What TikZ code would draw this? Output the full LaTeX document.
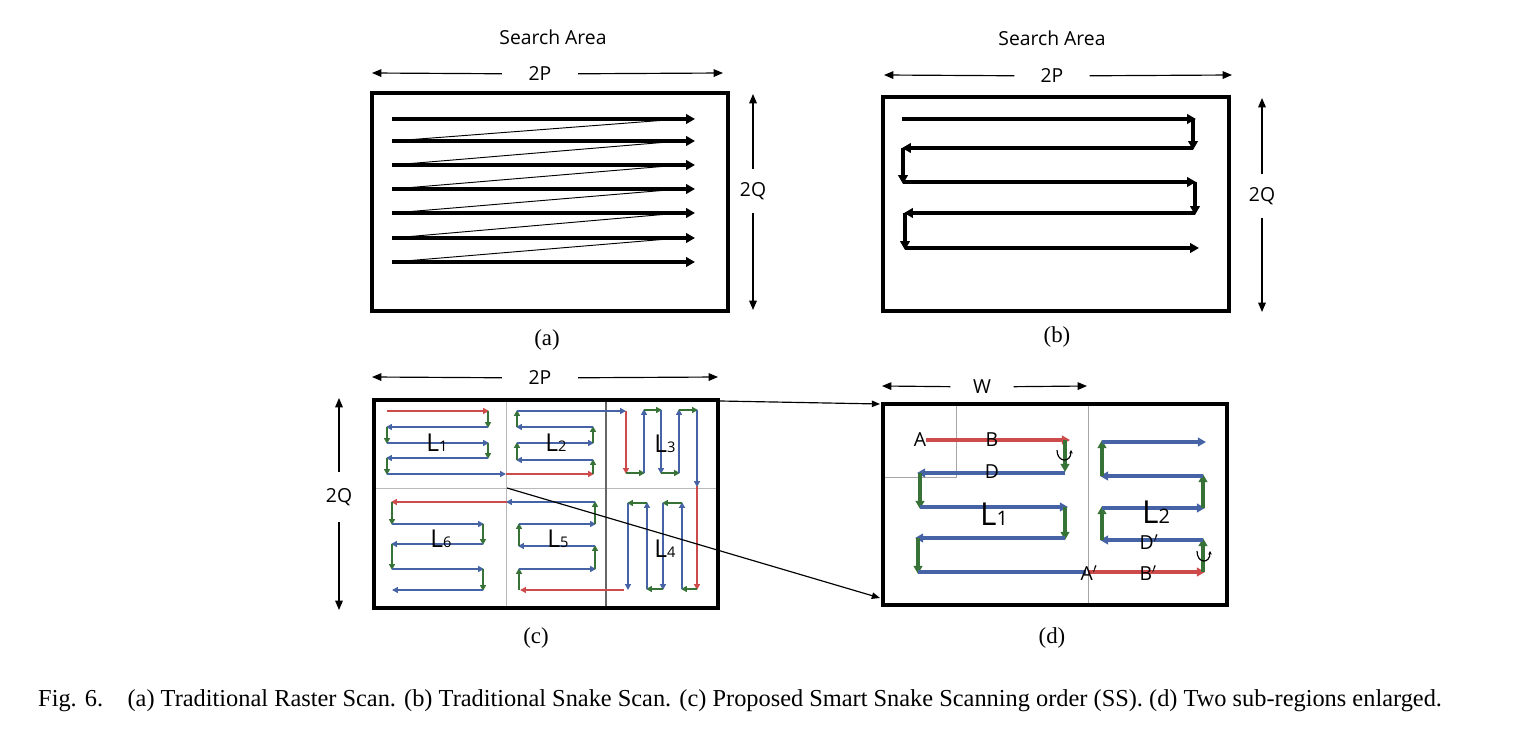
\documentclass[tikz,border=0pt]{standalone}
\usepackage{fontspec}
\setmainfont{Liberation Serif}
\setsansfont{Open Sans}
\usetikzlibrary{arrows.meta}

\definecolor{scanred}{RGB}{205,75,75}
\definecolor{scanblue}{RGB}{70,100,165}
\definecolor{scangreen}{RGB}{55,115,55}

\newcommand{\regionlabel}[2]{L{\fontsize{#2}{#2}\selectfont #1}}

\tikzset{
  frame/.style={draw=black,line width=2.6pt},
  heavyframe/.style={draw=black,line width=3.4pt},
  dim/.style={line width=1pt,-{Triangle[length=8pt,width=6.5pt]}},
  dimlabel/.style={font=\sffamily\fontsize{16.5}{19}\selectfont,inner sep=0pt},
  rowarrow/.style={line width=2.6pt,-{Triangle[length=7.5pt,width=8pt]}},
  diag/.style={line width=0.8pt},
  cseg/.style={line width=1.3pt,-{Triangle[length=5pt,width=5pt]}},
  dseg/.style={line width=3.3pt,-{Triangle[length=7pt,width=7.5pt]}},
  grid/.style={draw=gray!55,line width=0.8pt},
  zoomline/.style={line width=1pt,-{Triangle[length=7pt,width=5.5pt]}},
  sublabel/.style={font=\fontsize{19.5}{22}\selectfont,inner sep=0pt},
  letter/.style={font=\sffamily\fontsize{16.5}{18}\selectfont,inner sep=0pt},
  turn/.style={draw=black,line width=1pt,-{Stealth[length=3pt,width=3pt]}}
}

\begin{document}
\begin{tikzpicture}[x=0.3mm,y=-0.3mm]
  \useasboundingbox (0,0) rectangle (1540,734);

  % (a) raster scan
  \node[dimlabel] (a-title) at (553,37) {Search Area};
  \node[dimlabel,minimum width=22.8mm] (a-P) at (540,74) {2P};
  \coordinate (a-Pl) at (372,73);
  \coordinate (a-Pr) at (723,73);
  \draw[dim] (a-P) -- (a-Pl);
  \draw[dim] (a-P) -- (a-Pr);
  \node[dimlabel,minimum height=13.2mm] (a-Q) at (753,191) {2Q};
  \coordinate (a-Qt) at (753,94);
  \coordinate (a-Qb) at (753,310);
  \draw[dim] (a-Q) -- (a-Qt);
  \draw[dim] (a-Q) -- (a-Qb);
  \draw[frame] (372,93) rectangle (728,311);
  \foreach \ya/\yb in {119/141,141/165,165/189,189/213,213/238,238/262}
    \draw[diag] (680,\ya) -- (393,\yb);
  \foreach \y in {119,141,165,189,213,238,262}
    \draw[rowarrow] (392,\y) -- (695,\y);
  \node[sublabel] (a-lab) at (547,340) {(a)};

  % (b) snake scan
  \node[dimlabel] (b-title) at (1052,38) {Search Area};
  \node[dimlabel,minimum width=22.5mm] (b-P) at (1052,76) {2P};
  \coordinate (b-Pl) at (884,75);
  \coordinate (b-Pr) at (1232,75);
  \draw[dim] (b-P) -- (b-Pl);
  \draw[dim] (b-P) -- (b-Pr);
  \node[dimlabel,minimum height=12.9mm] (b-Q) at (1262,196) {2Q};
  \coordinate (b-Qt) at (1262,98);
  \coordinate (b-Qb) at (1262,312);
  \draw[dim] (b-Q) -- (b-Qt);
  \draw[dim] (b-Q) -- (b-Qb);
  \draw[frame] (883,97) rectangle (1229,311);
  \draw[rowarrow] (902,119) -- (1196,119);
  \draw[rowarrow] (1193,119) -- (1193,150);
  \draw[rowarrow] (1193,148) -- (902,148);
  \draw[rowarrow] (903,148) -- (903,184);
  \draw[rowarrow] (903,182) -- (1196,182);
  \draw[rowarrow] (1195,182) -- (1195,215);
  \draw[rowarrow] (1195,213) -- (904,213);
  \draw[rowarrow] (905,213) -- (905,250);
  \draw[rowarrow] (905,248) -- (1199,248);
  \node[sublabel] (b-lab) at (1057,337) {(b)};

  % (c) smart snake scan
  \node[dimlabel,minimum width=22.8mm] (c-P) at (540,378) {2P};
  \coordinate (c-Pl) at (372,377);
  \coordinate (c-Pr) at (718,377);
  \draw[dim] (c-P) -- (c-Pl);
  \draw[dim] (c-P) -- (c-Pr);
  \node[dimlabel,minimum height=15mm] (c-Q) at (339,497) {2Q};
  \coordinate (c-Qt) at (339,398);
  \coordinate (c-Qb) at (339,610);
  \draw[dim] (c-Q) -- (c-Qt);
  \draw[dim] (c-Q) -- (c-Qb);
  \draw[grid] (506,400) -- (506,608);
  \draw[grid] (374,488) -- (718,488);
  \draw[draw=gray!80!black,line width=0.9pt] (606,400) -- (606,608);
  % L1
  \draw[cseg,scanred] (387,411) -- (489,411);
  \draw[cseg,scangreen] (488,411) -- (488,428);
  \draw[cseg,scanblue] (488,427) -- (386,427);
  \draw[cseg,scangreen] (387,427) -- (387,444);
  \draw[cseg,scanblue] (387,443) -- (489,443);
  \draw[cseg,scangreen] (488,443) -- (488,459);
  \draw[cseg,scanblue] (488,458) -- (386,458);
  \draw[cseg,scangreen] (387,458) -- (387,475);
  \draw[cseg,scanblue] (387,474) -- (506,474);
  % L2
  \draw[cseg,scanred] (506,474) -- (594,474);
  \draw[cseg,scangreen] (593,474) -- (593,459);
  \draw[cseg,scanblue] (593,460) -- (516,460);
  \draw[cseg,scangreen] (517,460) -- (517,442);
  \draw[cseg,scanblue] (517,443) -- (594,443);
  \draw[cseg,scangreen] (593,443) -- (593,426);
  \draw[cseg,scanblue] (593,427) -- (516,427);
  \draw[cseg,scangreen] (517,427) -- (517,410);
  \draw[cseg,scanblue] (517,411) -- (626,411);
  % L3
  \draw[cseg,scanred] (626,411) -- (626,474);
  \draw[cseg,scangreen] (626,473) -- (645,473);
  \draw[cseg,scanblue] (644,473) -- (644,409);
  \draw[cseg,scangreen] (644,410) -- (662,410);
  \draw[cseg,scanblue] (661,410) -- (661,474);
  \draw[cseg,scangreen] (661,473) -- (680,473);
  \draw[cseg,scanblue] (679,473) -- (679,409);
  \draw[cseg,scangreen] (679,410) -- (698,410);
  \draw[cseg,scanblue] (697,410) -- (697,487);
  % L4
  \draw[cseg,scanred] (697,486) -- (697,590);
  \draw[cseg,scangreen] (697,589) -- (681,589);
  \draw[cseg,scanblue] (682,589) -- (682,502);
  \draw[cseg,scangreen] (682,503) -- (662,503);
  \draw[cseg,scanblue] (663,503) -- (663,590);
  \draw[cseg,scangreen] (663,589) -- (646,589);
  \draw[cseg,scanblue] (647,589) -- (647,502);
  \draw[cseg,scangreen] (647,503) -- (627,503);
  \draw[cseg,scanblue] (628,503) -- (628,590);
  % L5
  \draw[cseg,scanred] (624,590) -- (520,590);
  \draw[cseg,scangreen] (519,590) -- (519,568);
  \draw[cseg,scanblue] (519,569) -- (596,569);
  \draw[cseg,scangreen] (595,569) -- (595,545);
  \draw[cseg,scanblue] (595,546) -- (518,546);
  \draw[cseg,scangreen] (519,546) -- (519,523);
  \draw[cseg,scanblue] (519,524) -- (596,524);
  \draw[cseg,scangreen] (595,524) -- (595,501);
  \draw[cseg,scanblue] (595,502) -- (506,502);
  % L6
  \draw[cseg,scanred] (507,502) -- (391,502);
  \draw[cseg,scangreen] (392,502) -- (392,525);
  \draw[cseg,scanblue] (392,524) -- (484,524);
  \draw[cseg,scangreen] (483,524) -- (483,545);
  \draw[cseg,scanblue] (483,544) -- (391,544);
  \draw[cseg,scangreen] (392,544) -- (392,570);
  \draw[cseg,scanblue] (392,569) -- (484,569);
  \draw[cseg,scangreen] (483,569) -- (483,591);
  \draw[cseg,scanblue] (483,590) -- (392,590);
  \begin{scope}[every node/.style={font=\sffamily\fontsize{21}{22}\selectfont,inner sep=0pt}]
    \node (c-L1) at (437,443) {\regionlabel{1}{12.5}};
    \node (c-L2) at (556,443) {\regionlabel{2}{12.5}};
    \node (c-L3) at (665,444) {\regionlabel{3}{12.5}};
    \node (c-L4) at (665,549) {\regionlabel{4}{12.5}};
    \node (c-L5) at (558,539) {\regionlabel{5}{12.5}};
    \node (c-L6) at (441,539) {\regionlabel{6}{12.5}};
  \end{scope}
  \draw[heavyframe] (374,400) rectangle (718,608);
  \node[sublabel] (c-lab) at (536,638) {(c)};

  % (d) two sub-regions enlarged
  \node[dimlabel,minimum width=18.9mm] (d-W) at (982,387) {W};
  \coordinate (d-Wl) at (882,386);
  \coordinate (d-Wr) at (1087,386);
  \draw[dim] (d-W) -- (d-Wl);
  \draw[dim] (d-W) -- (d-Wr);
  \draw[grid,draw=gray!70] (956,404) -- (956,477) -- (883,477);
  \draw[grid,draw=gray!70] (1088,404) -- (1088,605);
  \draw[dseg,scanred] (926,440) -- (1070,440);
  \draw[dseg,scangreen] (1065,440) -- (1065,472);
  \draw[dseg,scanblue] (1065,473) -- (917,473);
  \draw[dseg,scangreen] (920,473) -- (920,509);
  \draw[dseg,scanblue] (920,507) -- (1068,507);
  \draw[dseg,scangreen] (1065,507) -- (1065,540);
  \draw[dseg,scanblue] (1065,538) -- (915,538);
  \draw[dseg,scangreen] (918,538) -- (918,574);
  \draw[line width=3.3pt,scanblue] (918,572) -- (1086,572);
  \draw[dseg,scanred] (1088,572) -- (1205,572);
  \draw[dseg,scangreen] (1203,572) -- (1203,538);
  \draw[dseg,scanblue] (1203,540) -- (1100,540);
  \draw[dseg,scangreen] (1102,540) -- (1102,506);
  \draw[dseg,scanblue] (1102,508) -- (1205,508);
  \draw[dseg,scangreen] (1203,508) -- (1203,474);
  \draw[dseg,scanblue] (1203,476) -- (1100,476);
  \draw[dseg,scangreen] (1102,476) -- (1102,440);
  \draw[dseg,scanblue] (1102,442) -- (1206,442);
  \draw[turn] (1057,450) .. controls (1057,463) and (1071,463) .. (1071,450);
  \draw[turn] (1197,551) .. controls (1197,564) and (1210,564) .. (1210,551);
  \begin{scope}[every node/.style=letter]
    \node (d-A) at (920,440) {A};
    \node (d-B) at (992,440) {B};
    \node (d-D) at (992,472) {D};
    \node (d-A2) at (1089,573) {A$'$};
    \node (d-B2) at (1148,573) {B$'$};
    \node (d-D2) at (1149,542) {D$'$};
  \end{scope}
  \begin{scope}[every node/.style={font=\sffamily\fontsize{27}{28}\selectfont,inner sep=0pt}]
    \node (d-L1) at (994,514) {\regionlabel{1}{17}};
    \node (d-L2) at (1156,512) {\regionlabel{2}{17}};
  \end{scope}
  \draw[frame] (883,404) rectangle (1227,605);
  \node[sublabel] (d-lab) at (1052,638) {(d)};

  % zoom lines from (c) to (d)
  \coordinate (c-ne) at (720,401);
  \coordinate (d-nw) at (880,404);
  \coordinate (c-mid) at (507,488);
  \coordinate (d-sw) at (880,598);
  \draw[zoomline] (c-ne) -- (d-nw);
  \draw[zoomline] (c-mid) -- (d-sw);

  \node[font=\fontsize{20.8}{24}\selectfont,inner sep=0pt,anchor=west] (caption) at (38,701)
    {Fig. 6.\quad (a) Traditional Raster Scan. (b) Traditional Snake Scan. (c) Proposed Smart Snake Scanning order (SS). (d) Two sub-regions enlarged.};
\end{tikzpicture}
\end{document}
